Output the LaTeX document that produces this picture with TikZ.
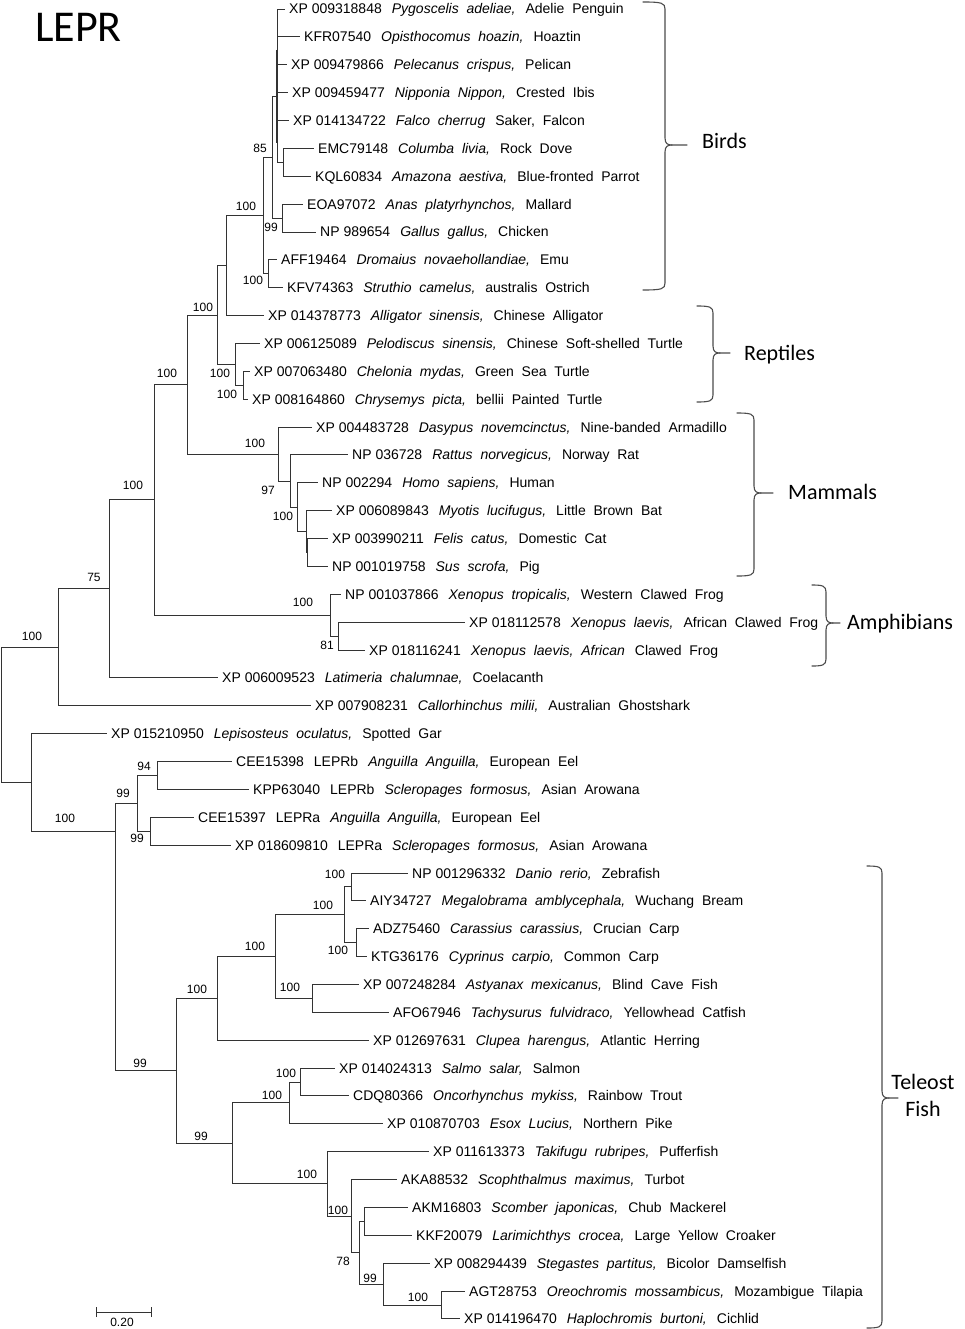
\documentclass[tikz,border=0pt]{standalone}
\usepackage{fontspec}
\setmainfont{Liberation Sans}[WordSpace=2.0]
\newfontfamily\grpfont{Carlito}
\newcommand\xs{\hspace{3.9pt}}
\newcommand\gapw{\hspace{10pt}}
\newcommand\lf[3]{#1\gapw\textit{#2}\gapw #3}
\begin{document}
\begin{tikzpicture}[x=1pt,y=-1pt,
  branch/.style={line width=0.9pt, draw=black!80},
  leaf/.style={anchor=west, inner xsep=4pt, inner ysep=0pt, font=\fontsize{14}{16}\selectfont, text height=10pt, text depth=0pt},
  boot/.style={font=\fontsize{12}{14}\selectfont, inner sep=0pt, text height=8.6pt, text depth=0pt},
  brc/.style={line width=1.1pt, draw=black!70, line cap=round},
  grp/.style={font=\grpfont\fontsize{22}{26}\selectfont, anchor=base west, inner sep=0pt},
  grpc/.style={font=\grpfont\fontsize{22}{26}\selectfont, anchor=base, inner sep=0pt}]
\useasboundingbox (0,0) rectangle (965,1329);

% title
\node[font=\grpfont\fontsize{44}{50}\selectfont, anchor=base west, inner sep=0pt] (title) at (35,42) {LEPR};

% ---------- leaves ----------
\node[leaf] (l0) at (285,9) {\lf{XP\xs 009318848}{Pygoscelis adeliae,}{Adelie Penguin}};
\node[leaf] (l1) at (300,36.9) {\lf{KFR07540}{Opisthocomus hoazin,}{Hoaztin}};
\node[leaf] (l2) at (287,64.7) {\lf{XP\xs 009479866}{Pelecanus crispus,}{Pelican}};
\node[leaf] (l3) at (288,92.6) {\lf{XP\xs 009459477}{Nipponia Nippon,}{Crested Ibis}};
\node[leaf] (l4) at (289,120.5) {\lf{XP\xs 014134722}{Falco cherrug}{Saker, Falcon}};
\node[leaf] (l5) at (314,148.4) {\lf{EMC79148}{Columba livia,}{Rock Dove}};
\node[leaf] (l6) at (311,176.2) {\lf{KQL60834}{Amazona aestiva,}{Blue-fronted Parrot}};
\node[leaf] (l7) at (303,204.1) {\lf{EOA97072}{Anas platyrhynchos,}{Mallard}};
\node[leaf] (l8) at (316,232.0) {\lf{NP\xs 989654}{Gallus gallus,}{Chicken}};
\node[leaf] (l9) at (277,259.8) {\lf{AFF19464}{Dromaius novaehollandiae,}{Emu}};
\node[leaf] (l10) at (283,287.7) {\lf{KFV74363}{Struthio camelus,}{australis Ostrich}};
\node[leaf] (l11) at (264,315.6) {\lf{XP\xs 014378773}{Alligator sinensis,}{Chinese Alligator}};
\node[leaf] (l12) at (260,343.4) {\lf{XP\xs 006125089}{Pelodiscus sinensis,}{Chinese Soft-shelled Turtle}};
\node[leaf] (l13) at (250,371.3) {\lf{XP\xs 007063480}{Chelonia mydas,}{Green Sea Turtle}};
\node[leaf] (l14) at (248,399.2) {\lf{XP\xs 008164860}{Chrysemys picta,}{bellii Painted Turtle}};
\node[leaf] (l15) at (312,427.1) {\lf{XP\xs 004483728}{Dasypus novemcinctus,}{Nine-banded Armadillo}};
\node[leaf] (l16) at (348,454.9) {\lf{NP\xs 036728}{Rattus norvegicus,}{Norway Rat}};
\node[leaf] (l17) at (318,482.8) {\lf{NP\xs 002294}{Homo sapiens,}{Human}};
\node[leaf] (l18) at (332,510.7) {\lf{XP\xs 006089843}{Myotis lucifugus,}{Little Brown Bat}};
\node[leaf] (l19) at (328,538.5) {\lf{XP\xs 003990211}{Felis catus,}{Domestic Cat}};
\node[leaf] (l20) at (328,566.4) {\lf{NP\xs 001019758}{Sus scrofa,}{Pig}};
\node[leaf] (l21) at (341,594.3) {\lf{NP\xs 001037866}{Xenopus tropicalis,}{Western Clawed Frog}};
\node[leaf] (l22) at (465,622.1) {\lf{XP\xs 018112578}{Xenopus laevis,}{African Clawed Frog}};
\node[leaf] (l23) at (365,650.0) {\lf{XP\xs 018116241}{Xenopus laevis, African}{Clawed Frog}};
\node[leaf] (l24) at (218,677.9) {\lf{XP\xs 006009523}{Latimeria chalumnae,}{Coelacanth}};
\node[leaf] (l25) at (311,705.8) {\lf{XP\xs 007908231}{Callorhinchus milii,}{Australian Ghostshark}};
\node[leaf] (l26) at (107,733.6) {\lf{XP\xs 015210950}{Lepisosteus oculatus,}{Spotted Gar}};
\node[leaf] (l27) at (232,761.5) {\lf{CEE15398\gapw LEPRb}{Anguilla Anguilla,}{European Eel}};
\node[leaf] (l28) at (249,789.4) {\lf{KPP63040\gapw LEPRb}{Scleropages formosus,}{Asian Arowana}};
\node[leaf] (l29) at (194,817.2) {\lf{CEE15397\gapw LEPRa}{Anguilla Anguilla,}{European Eel}};
\node[leaf] (l30) at (231,845.1) {\lf{XP\xs 018609810\gapw LEPRa}{Scleropages formosus,}{Asian Arowana}};
\node[leaf] (l31) at (408,873.0) {\lf{NP\xs 001296332}{Danio rerio,}{Zebrafish}};
\node[leaf] (l32) at (366,900.8) {\lf{AIY34727}{Megalobrama amblycephala,}{Wuchang Bream}};
\node[leaf] (l33) at (369,928.7) {\lf{ADZ75460}{Carassius carassius,}{Crucian Carp}};
\node[leaf] (l34) at (367,956.6) {\lf{KTG36176}{Cyprinus carpio,}{Common Carp}};
\node[leaf] (l35) at (359,984.5) {\lf{XP\xs 007248284}{Astyanax mexicanus,}{Blind Cave Fish}};
\node[leaf] (l36) at (389,1012.3) {\lf{AFO67946}{Tachysurus fulvidraco,}{Yellowhead Catfish}};
\node[leaf] (l37) at (369,1040.2) {\lf{XP\xs 012697631}{Clupea harengus,}{Atlantic Herring}};
\node[leaf] (l38) at (335,1068.1) {\lf{XP\xs 014024313}{Salmo salar,}{Salmon}};
\node[leaf] (l39) at (349,1095.9) {\lf{CDQ80366}{Oncorhynchus mykiss,}{Rainbow Trout}};
\node[leaf] (l40) at (383,1123.8) {\lf{XP\xs 010870703}{Esox Lucius,}{Northern Pike}};
\node[leaf] (l41) at (429,1151.7) {\lf{XP\xs 011613373}{Takifugu rubripes,}{Pufferfish}};
\node[leaf] (l42) at (397,1179.5) {\lf{AKA88532}{Scophthalmus maximus,}{Turbot}};
\node[leaf] (l43) at (408,1207.4) {\lf{AKM16803}{Scomber japonicas,}{Chub Mackerel}};
\node[leaf] (l44) at (412,1235.3) {\lf{KKF20079}{Larimichthys crocea,}{Large Yellow Croaker}};
\node[leaf] (l45) at (430,1263.1) {\lf{XP\xs 008294439}{Stegastes partitus,}{Bicolor Damselfish}};
\node[leaf] (l46) at (465,1291.0) {\lf{AGT28753}{Oreochromis mossambicus,}{Mozambigue Tilapia}};
\node[leaf] (l47) at (460,1318.9) {\lf{XP\xs 014196470}{Haplochromis burtoni,}{Cichlid}};

% ---------- internal nodes ----------
\coordinate (P1) at (277,96);
\coordinate (P2) at (283,162.3);
\coordinate (A) at (272,157);
\coordinate (AG) at (282,218);
\coordinate (B) at (263,215.5);
\coordinate (Rat) at (268,273.8);
\coordinate (C) at (226,265.6);
\coordinate (F) at (243,385.3);
\coordinate (E) at (235,364.3);
\coordinate (D) at (217,315);
\coordinate (M5) at (307,552.5);
\coordinate (M4) at (306,531.6);
\coordinate (M3) at (297,507.2);
\coordinate (M2) at (290,481);
\coordinate (M1) at (278,454);
\coordinate (G) at (187,384.5);
\coordinate (Am2) at (338,636);
\coordinate (Am) at (330,615.2);
\coordinate (H) at (154,499.9);
\coordinate (I) at (109,588.9);
\coordinate (J) at (58,647.3);
\coordinate (O) at (157,775.5);
\coordinate (Pa) at (150,831.2);
\coordinate (N) at (137,803.3);
\coordinate (W1) at (351,886.9);
\coordinate (W2) at (356,942.6);
\coordinate (W) at (344,914.8);
\coordinate (X) at (312,998.4);
\coordinate (V) at (275,956.6);
\coordinate (U) at (217,998.4);
\coordinate (Z2) at (300,1082);
\coordinate (Z1) at (289,1102.9);
\coordinate (S3) at (441,1305);
\coordinate (S2) at (383,1284.1);
\coordinate (S1) at (364,1221.4);
\coordinate (S) at (359,1252.7);
\coordinate (R) at (351,1216.1);
\coordinate (Q) at (327,1183.9);
\coordinate (Y) at (232,1143.4);
\coordinate (T) at (176,1070.9);
\coordinate (L) at (115,831);
\coordinate (K) at (31,782.5);
\coordinate (Root) at (1.5,715);

% ---------- branches ----------
\foreach \p/\c in {Root/J, Root/K, J/I, J/l25, I/H, I/l24, H/G, H/Am, G/D, G/M1,
  D/C, D/E, C/B, C/l11, B/A, B/Rat, A/P1, A/AG,
  P1/l0, P1/l1, P1/l2, P1/l3, P1/l4, P1/P2, P2/l5, P2/l6, AG/l7, AG/l8,
  Rat/l9, Rat/l10, E/l12, E/F, F/l13, F/l14,
  M1/l15, M1/M2, M2/l16, M2/M3, M3/l17, M3/M4, M4/l18, M4/M5, M5/l19, M5/l20,
  Am/l21, Am/Am2, Am2/l22, Am2/l23,
  K/l26, K/L, L/N, L/T, N/O, N/Pa, O/l27, O/l28, Pa/l29, Pa/l30,
  T/U, T/Y, U/V, U/l37, V/W, V/X, W/W1, W/W2, W1/l31, W1/l32, W2/l33, W2/l34,
  X/l35, X/l36, Y/Z1, Y/Q, Z1/Z2, Z1/l40, Z2/l38, Z2/l39,
  Q/l41, Q/R, R/l42, R/S, S/S1, S/S2, S1/l43, S1/l44, S2/l45, S2/S3, S3/l46, S3/l47}
  \draw[branch] (\p) |- (\c);
% tiny internal branches of the bird polytomy
\draw[branch] (276,50) -- (276,143);
\draw[branch, line width=2pt] (276.8,50) -- (276.8,78);

% ---------- bootstrap values ----------
\node[boot] (bA) at (260,148) {85};
\node[boot] (bB) at (246,206) {100};
\node[boot] (bAG) at (271,227) {99};
\node[boot] (bRat) at (253,280) {100};
\node[boot] (bD) at (203,307) {100};
\node[boot] (bE) at (220,373) {100};
\node[boot] (bF) at (227,394) {100};
\node[boot] (bG) at (167,373) {100};
\node[boot] (bM1) at (255,443) {100};
\node[boot] (bM2) at (268,490) {97};
\node[boot] (bM3) at (283,516) {100};
\node[boot] (bH) at (133,485) {100};
\node[boot] (bAm) at (303,602) {100};
\node[boot] (bAm2) at (327,645) {81};
\node[boot] (bI) at (94,577) {75};
\node[boot] (bJ) at (32,636) {100};
\node[boot] (bO) at (144,766) {94};
\node[boot] (bN) at (123,793) {99};
\node[boot] (bPa) at (137,838) {99};
\node[boot] (bL) at (65,818) {100};
\node[boot] (bW1) at (335,874) {100};
\node[boot] (bW) at (323,905) {100};
\node[boot] (bW2) at (338,950) {100};
\node[boot] (bV) at (255,946) {100};
\node[boot] (bX) at (290,987) {100};
\node[boot] (bU) at (197,989) {100};
\node[boot] (bT) at (140,1063) {99};
\node[boot] (bZ2) at (286,1073) {100};
\node[boot] (bZ1) at (272,1095) {100};
\node[boot] (bY) at (201,1136) {99};
\node[boot] (bQ) at (307,1174) {100};
\node[boot] (bR) at (338,1210) {100};
\node[boot] (bS) at (343,1261) {78};
\node[boot] (bS2) at (370,1278) {99};
\node[boot] (bS3) at (418,1297) {100};

% ---------- scale bar ----------
\coordinate (sb1) at (96,1312);
\coordinate (sb2) at (151,1312);
\draw[branch] (sb1) -- (sb2);
\draw[branch] ([yshift=-5pt]sb1) -- ([yshift=5pt]sb1);
\draw[branch] ([yshift=-5pt]sb2) -- ([yshift=5pt]sb2);
\node[boot] (sbl) at (122,1322) {0.20};

% ---------- group braces ----------
% #1 x end, #2 x spine, #3 x tip, #4 y top, #5 y mid, #6 y bottom
\newcommand\grpbrace[6]{%
  \draw[brc] (#1,#4) .. controls (#2-3,#4) and (#2,#4+1) .. (#2,#4+7)
     -- (#2,#5-7) .. controls (#2,#5-1) and (#2+3,#5) .. (#2+7,#5) -- (#3,#5);
  \draw[brc] (#1,#6) .. controls (#2-3,#6) and (#2,#6-1) .. (#2,#6-7)
     -- (#2,#5+7) .. controls (#2,#5+1) and (#2+3,#5) .. (#2+7,#5);
}
\grpbrace{643}{665}{687}{2}{145}{290}
\grpbrace{697}{713}{730}{306}{353}{402}
\grpbrace{737}{754}{773}{413}{493}{576}
\grpbrace{812}{826}{840}{585}{623}{666}
\grpbrace{867}{882}{898}{866}{1098}{1328}

\node[grp] (gBirds) at (702,149) {Birds};
\node[grp] (gRept) at (744,360) {Reptiles};
\node[grp] (gMamm) at (788,499) {Mammals};
\node[grp] (gAmph) at (847,629) {Amphibians};
\node[grpc] (gTel1) at (923,1089) {Teleost};
\node[grpc] (gTel2) at (923,1116) {Fish};
\end{tikzpicture}
\end{document}
